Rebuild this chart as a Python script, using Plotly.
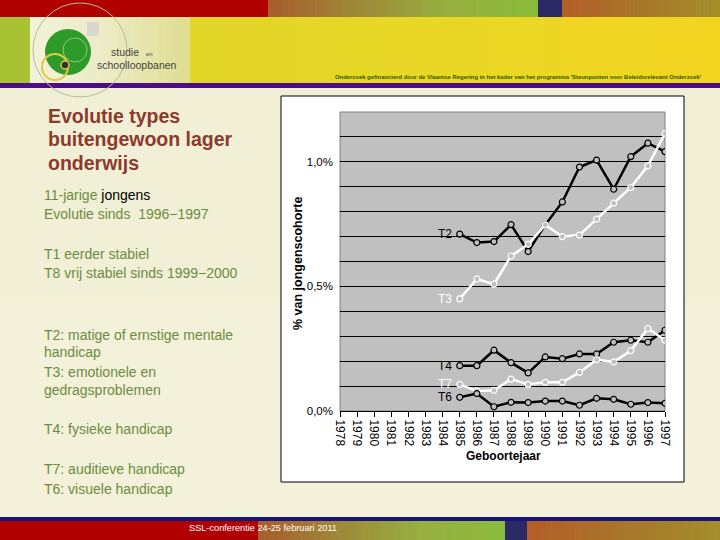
import plotly.graph_objects as go

W, H = 720, 540

# ---------------- data ----------------
years = [str(y) for y in range(1978, 1998)]
series_years = [str(y) for y in range(1985, 1998)]

t2 = [0.710, 0.676, 0.680, 0.748, 0.640, 0.747, 0.839, 0.979, 1.007, 0.890, 1.021, 1.075, 1.041]
t3 = [0.450, 0.530, 0.509, 0.622, 0.669, 0.747, 0.700, 0.706, 0.770, 0.834, 0.897, 0.984, 1.114]
t4 = [0.182, 0.182, 0.244, 0.194, 0.153, 0.217, 0.210, 0.229, 0.229, 0.276, 0.284, 0.276, 0.324]
t7 = [0.107, 0.080, 0.083, 0.128, 0.107, 0.115, 0.115, 0.155, 0.206, 0.197, 0.242, 0.331, 0.284]
t6 = [0.055, 0.070, 0.017, 0.035, 0.034, 0.040, 0.040, 0.023, 0.051, 0.047, 0.027, 0.034, 0.031]

series_names = ["T2", "T3", "T4", "T7", "T6"]
series_values = [t2, t3, t4, t7, t6]
series_colors = ["black", "white", "black", "white", "black"]

y_tickvals = [0.0, 0.5, 1.0]
y_ticktext = ["0,0%", "0,5%", "1,0%"]

FONT = "Liberation Sans, Arial, sans-serif"

# ---------------- helpers ----------------
def hex2rgb(h):
    h = h.lstrip('#')
    return tuple(int(h[i:i + 2], 16) for i in (0, 2, 4))


def rect(x0, y0, x1, y1, color, line_color=None, line_width=0, layer='below'):
    return dict(type='rect', xref='paper', yref='paper',
                x0=x0 / W, x1=x1 / W, y0=1 - y1 / H, y1=1 - y0 / H,
                fillcolor=color, layer=layer,
                line=dict(width=line_width, color=line_color or color))


def gradient(x0, y0, x1, y1, stops, n=40):
    out = []
    step = (x1 - x0) / n
    for i in range(n):
        t = i / (n - 1)
        seg = min(int(t * (len(stops) - 1)), len(stops) - 2)
        lt = t * (len(stops) - 1) - seg
        a, b = hex2rgb(stops[seg]), hex2rgb(stops[seg + 1])
        c = tuple(int(a[k] + (b[k] - a[k]) * lt) for k in range(3))
        out.append(rect(x0 + i * step, y0, x0 + (i + 1) * step + 0.6, y1,
                        'rgb(%d,%d,%d)' % c))
    return out


def circle(cx, cy, r, fill=None, line_color=None, lw=1):
    return dict(type='circle', xref='paper', yref='paper',
                x0=(cx - r) / W, x1=(cx + r) / W,
                y0=1 - (cy + r) / H, y1=1 - (cy - r) / H,
                fillcolor=fill if fill else 'rgba(0,0,0,0)',
                line=dict(color=line_color if line_color else 'rgba(0,0,0,0)', width=lw),
                layer='below')


def text(x, y, s, size=13, color='black', bold=False, xanchor='left', yanchor='middle',
         angle=0, family=FONT):
    if bold:
        s = '<b>' + s + '</b>'
    return dict(xref='paper', yref='paper', x=x / W, y=1 - y / H, text=s,
                showarrow=False, xanchor=xanchor, yanchor=yanchor, textangle=angle,
                borderpad=0,
                font=dict(size=size, color=color, family=family))


shapes = []
shapes += [rect(0, 88, W, 517, '#F1EFD6')]
shapes += [rect(0, 300, W, 517, '#F3F1DA')]

# top band
shapes.append(rect(0, 0, 268, 17, '#B00000'))
shapes += gradient(268, 0, 538, 17, ['#A85F2C', '#9E8A38', '#98B040', '#8CBB3C'])
shapes.append(rect(538, 0, 562, 17, '#2B2A66'))
shapes += gradient(562, 0, 720, 17, ['#B45E28', '#A8772A', '#A38E2C'])

# yellow header
shapes.append(rect(0, 17, 30, 83, '#A9C234'))
shapes += gradient(30, 17, 190, 83, ['#F2F2D8', '#ECEBC4', '#E0DE90'], n=20)
shapes += gradient(190, 17, 720, 83, ['#E2D629', '#EAD826', '#F3D520'], n=30)
shapes.append(rect(0, 83, W, 88, '#4E0D88'))

# logo
shapes.append(circle(80, 50, 47, line_color='#B8B8A0', lw=1))
shapes.append(circle(68, 52, 23, fill='#2E9A2A'))
shapes.append(circle(75, 50, 12, line_color='#8FCB80', lw=1))
shapes.append(circle(55, 67, 13, line_color='#E4C840', lw=2))
shapes.append(circle(65, 65, 4, fill='#333333', line_color='#E4C840', lw=1.5))
shapes.append(rect(87, 22, 99, 36, '#D8D8D0'))

# bottom band
shapes.append(rect(0, 517, W, 521, '#16137A'))
shapes.append(rect(0, 521, 258, 540, '#B00000'))
shapes += gradient(258, 521, 505, 540, ['#A85F2C', '#9E8A38', '#98B040', '#8CBB3C'])
shapes.append(rect(505, 521, 527, 540, '#2B2A66'))
shapes += gradient(527, 521, 720, 540, ['#B45E28', '#A8772A', '#A38E2C'])

# chart box
shapes.append(rect(281, 96, 684, 482, 'white', line_color='black', line_width=1))
# plot area background
shapes.append(dict(type='rect', xref='x domain', yref='y domain', x0=0, x1=1, y0=0, y1=1,
                   fillcolor='#C0C0C0', line=dict(color='#808080', width=1), layer='below'))

annotations = []
annotations.append(text(110, 52, 'studie', size=10.5, color='#444444'))
annotations.append(text(145, 54, 'en', size=6, color='#444444'))
annotations.append(text(96, 64.5, 'schoolloopbanen', size=10.5, color='#444444'))
annotations.append(text(703, 77, "Onderzoek gefinancierd door de Vlaamse Regering in het kader van het programma "
                                 "'Steunpunten voor Beleidsrelevant Onderzoek'",
                        size=5.9, color='#2E5A00', bold=True, xanchor='right'))

TITLE_C = '#8B3A2C'
for i, line in enumerate(['Evolutie types', 'buitengewoon lager', 'onderwijs']):
    annotations.append(text(47, 116 + i * 23.3, line, size=19.5, color=TITLE_C, bold=True))

SUB_C = '#6C8C40'
annotations.append(text(43, 195, "11-jarige <span style='color:black'>jongens</span>", size=14, color=SUB_C))
left_lines = [
    (214, 'Evolutie sinds  1996\u22121997'),
    (254, 'T1 eerder stabiel'),
    (273, 'T8 vrij stabiel sinds 1999\u22122000'),
    (335, 'T2: matige of ernstige mentale'),
    (352, 'handicap'),
    (372, 'T3: emotionele en'),
    (390, 'gedragsproblemen'),
    (429, 'T4: fysieke handicap'),
    (469, 'T7: auditieve handicap'),
    (489, 'T6: visuele handicap'),
]
for y, s in left_lines:
    annotations.append(text(43, y, s, size=14, color=SUB_C))

annotations.append(text(188, 528, 'SSL-conferentie 24-25 februari 2011', size=9.2, color='white'))

# axis titles
annotations.append(text(298, 264, '% van jongenscohorte', size=12.5, bold=True, xanchor='center',
                        angle=-90))
annotations.append(text(503, 456, 'Geboortejaar', size=12, bold=True, xanchor='center'))

# series labels (placed at the first data point of each series)
first_idx = years.index(series_years[0])
for name, vals, col in zip(series_names, series_values, series_colors):
    annotations.append(dict(xref='x', yref='y', x=first_idx, y=vals[0], text=name,
                            showarrow=False, xanchor='right', xshift=-6,
                            font=dict(size=12, color=col, family=FONT)))

fig = go.Figure()
for name, vals, col in zip(series_names, series_values, series_colors):
    fig.add_trace(go.Scatter(
        x=series_years, y=vals, mode='lines+markers', name=name,
        line=dict(color=col, width=2.5),
        marker=dict(symbol='circle', size=6, color='#C0C0C0',
                    line=dict(color=col, width=1.2)),
        showlegend=False, hoverinfo='skip'))

fig.update_layout(
    width=W, height=H,
    margin=dict(l=0, r=0, t=0, b=0, pad=0, autoexpand=False),
    paper_bgcolor='#F2F0D8',
    plot_bgcolor='rgba(0,0,0,0)',
    shapes=shapes,
    annotations=annotations,
    font=dict(family=FONT, size=11, color='black'),
    xaxis=dict(
        domain=[340 / W, 665 / W], automargin=False,
        type='category', categoryorder='array', categoryarray=years,
        range=[0, 19], tickangle=90,
        tickmode='array', tickvals=years, ticktext=years,
        ticks='outside', ticklen=5, tickcolor='black',
        showline=True, linecolor='black', linewidth=1,
        showgrid=False, zeroline=False,
        tickfont=dict(size=12, family=FONT, color='black'),
    ),
    yaxis=dict(
        domain=[1 - 411 / H, 1 - 112 / H], automargin=False,
        range=[0, 1.2],
        tickmode='array', tickvals=y_tickvals, ticktext=y_ticktext,
        ticks='', showline=False, zeroline=False,
        showgrid=True, gridcolor='black', gridwidth=1,
        minor=dict(dtick=0.1, showgrid=True, gridcolor='black', gridwidth=1, ticks=''),
        tickfont=dict(size=11.5, family=FONT, color='black'),
        ticklabelstandoff=6,
    ),
)

post = ("var s=document.createElement('style');"
        "s.innerHTML='html,body{margin:0!important;padding:0!important;overflow:hidden;}"
        ".plotly-graph-div{position:absolute;left:0;top:0;}';"
        "document.head.appendChild(s);")

fig.write_html('out.html', config=dict(displayModeBar=False, staticPlot=True),
               post_script=post)
